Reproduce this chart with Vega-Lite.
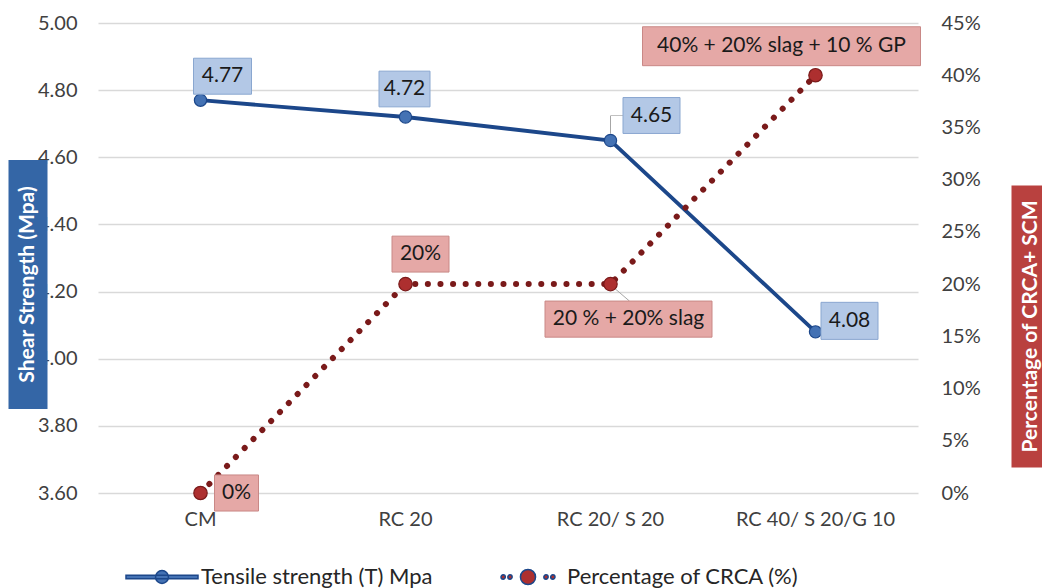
{
  "$schema": "https://vega.github.io/schema/vega-lite/v6.json",
  "width": 820,
  "height": 470,
  "autosize": {"type": "none"},
  "padding": {"left": 98, "top": 23, "right": 124, "bottom": 95},
  "background": "white",
  "config": {
    "view": {"stroke": null},
    "font": "Lato",
    "axis": {"labelFont": "Lato", "titleFont": "Lato"},
    "legend": {"labelFont": "Lato"}
  },
  "data": {
    "values": [
      {"mix": "CM", "series": "Tensile strength (T) Mpa", "value": 4.77, "label": "4.77"},
      {"mix": "RC 20", "series": "Tensile strength (T) Mpa", "value": 4.72, "label": "4.72"},
      {"mix": "RC 20/ S 20", "series": "Tensile strength (T) Mpa", "value": 4.65, "label": "4.65"},
      {"mix": "RC 40/ S 20/G 10", "series": "Tensile strength (T) Mpa", "value": 4.08, "label": "4.08"},
      {"mix": "CM", "series": "Percentage of CRCA  (%)", "value": 0, "label": "0%"},
      {"mix": "RC 20", "series": "Percentage of CRCA  (%)", "value": 0.2, "label": "20%"},
      {"mix": "RC 20/ S 20", "series": "Percentage of CRCA  (%)", "value": 0.2, "label": "20 % + 20% slag"},
      {"mix": "RC 40/ S 20/G 10", "series": "Percentage of CRCA  (%)", "value": 0.4, "label": "40% + 20% slag + 10 % GP"}
    ]
  },
  "encoding": {
    "x": {
      "field": "mix",
      "type": "nominal",
      "sort": ["CM", "RC 20", "RC 20/ S 20", "RC 40/ S 20/G 10"],
      "scale": {"paddingInner": 0, "paddingOuter": 0},
      "axis": {
        "title": null,
        "labelAngle": 0,
        "labelFontSize": 20,
        "labelColor": "#404040",
        "labelPadding": 16,
        "ticks": false,
        "domain": false,
        "grid": false
      }
    }
  },
  "layer": [
    {
      "transform": [{"filter": "datum.series === 'Tensile strength (T) Mpa'"}],
      "layer": [
        {
          "mark": {"type": "line", "stroke": "#1c478a", "strokeWidth": 3.8},
          "encoding": {
            "y": {
              "field": "value",
              "type": "quantitative",
              "scale": {"domain": [3.6, 5.0], "nice": false, "zero": false},
              "axis": {
                "orient": "left",
                "title": null,
                "values": [3.6, 3.8, 4.0, 4.2, 4.4, 4.6, 4.8, 5.0],
                "format": ".2f",
                "labelFontSize": 20,
                "labelColor": "#404040",
                "labelPadding": 21,
                "ticks": false,
                "domain": false,
                "grid": true,
                "gridColor": "#d9d9d9",
                "gridWidth": 1.5
              }
            }
          }
        },
        {
          "transform": [{"filter": "datum.label === '4.65'"}],
          "layer": [
            {
              "mark": {"type": "rule", "stroke": "#a6a6a6", "strokeWidth": 1, "yOffset": -7, "y2Offset": -25},
              "encoding": {"y2": {"field": "value"}}
            },
            {
              "mark": {"type": "tick", "orient": "horizontal", "size": 13, "thickness": 1, "color": "#a6a6a6", "xOffset": 7, "yOffset": -25}
            }
          ],
          "encoding": {"y": {"field": "value", "type": "quantitative", "axis": null}}
        },
        {
          "mark": {"type": "point", "filled": true, "size": 150, "opacity": 1, "stroke": "#1c478a", "strokeWidth": 1.2},
          "encoding": {
            "y": {"field": "value", "type": "quantitative", "axis": null},
            "color": {
              "field": "series",
              "type": "nominal",
              "scale": {
                "domain": ["Tensile strength (T) Mpa", "Percentage of CRCA  (%)"],
                "range": ["#4472b4", "#ad2f2f"]
              },
              "legend": {
                "title": null,
                "orient": "none",
                "direction": "horizontal",
                "legendX": 27,
                "legendY": 517,
                "symbolSize": 5184,
                "labelFontSize": 22,
                "labelColor": "#262626",
                "labelOffset": 2,
                "labelLimit": 400,
                "columnPadding": 58,
                "encode": {
                  "symbols": {
                    "stroke": {
                      "condition": {"test": "datum.value === 'Tensile strength (T) Mpa'", "value": "#1c478a"},
                      "value": "#7a1a1a"
                    },
                    "strokeWidth": {"value": 1}
                  }
                }
              }
            }
          }
        },
        {
          "transform": [{"filter": "false"}],
          "mark": {"type": "point", "filled": true},
          "encoding": {
            "y": {"field": "value", "type": "quantitative", "axis": null},
            "color": {"field": "series", "type": "nominal"},
            "shape": {
              "field": "series",
              "type": "nominal",
              "scale": {
                "domain": ["Tensile strength (T) Mpa", "Percentage of CRCA  (%)"],
                "range": [
                  "M-1,-0.05H1V0.05H-1Z M0.18,0A0.18,0.18,0,1,1,-0.18,0A0.18,0.18,0,1,1,0.18,0Z",
                  "M-0.63,0A0.06,0.06,0,1,1,-0.75,0A0.06,0.06,0,1,1,-0.63,0Z M-0.44,0A0.06,0.06,0,1,1,-0.56,0A0.06,0.06,0,1,1,-0.44,0Z M0.21,0A0.21,0.21,0,1,1,-0.21,0A0.21,0.21,0,1,1,0.21,0Z M0.56,0A0.06,0.06,0,1,1,0.44,0A0.06,0.06,0,1,1,0.56,0Z M0.75,0A0.06,0.06,0,1,1,0.63,0A0.06,0.06,0,1,1,0.75,0Z"
                ]
              }
            }
          }
        },
        {
          "transform": [{"filter": "datum.label === '4.77'"}],
          "encoding": {
            "y": {
              "field": "value",
              "type": "quantitative",
              "axis": {
                "orient": "left",
                "offset": 51,
                "values": [4.2226],
                "labels": false,
                "ticks": true,
                "tickSize": 39,
                "tickWidth": 249,
                "tickCap": "butt",
                "tickColor": "#3466a6",
                "domain": false,
                "grid": false,
                "title": "Shear Strength (Mpa)",
                "titleColor": "white",
                "titleFontWeight": "bold",
                "titleFontSize": 21,
                "titleAngle": -90,
                "titleAlign": "center",
                "titleBaseline": "middle",
                "titleX": -20,
                "titleY": 261
              }
            }
          },
          "layer": [
            {"mark": {"type": "point", "shape": "M-1,-0.62H1V0.62H-1Z", "size": 3364, "filled": true, "fill": "#b3c8e6", "stroke": "#8aa7d0", "strokeWidth": 1, "opacity": 1, "xOffset": 22, "yOffset": -24}},
            {"mark": {"type": "text", "fontSize": 21, "color": "#1a1a1a", "xOffset": 22, "yOffset": -24}, "encoding": {"text": {"field": "label"}}}
          ]
        },
        {
          "transform": [{"filter": "datum.label === '4.72'"}],
          "encoding": {"y": {"field": "value", "type": "quantitative", "axis": null}},
          "layer": [
            {"mark": {"type": "point", "shape": "M-1,-0.7H1V0.7H-1Z", "size": 2601, "filled": true, "fill": "#b3c8e6", "stroke": "#8aa7d0", "strokeWidth": 1, "opacity": 1, "xOffset": -1, "yOffset": -28}},
            {"mark": {"type": "text", "fontSize": 21, "color": "#1a1a1a", "xOffset": -1, "yOffset": -28}, "encoding": {"text": {"field": "label"}}}
          ]
        },
        {
          "transform": [{"filter": "datum.label === '4.65'"}],
          "encoding": {"y": {"field": "value", "type": "quantitative", "axis": null}},
          "layer": [
            {"mark": {"type": "point", "shape": "M-1,-0.63H1V0.63H-1Z", "size": 3249, "filled": true, "fill": "#b3c8e6", "stroke": "#8aa7d0", "strokeWidth": 1, "opacity": 1, "xOffset": 41, "yOffset": -25}},
            {"mark": {"type": "text", "fontSize": 21, "color": "#1a1a1a", "xOffset": 41, "yOffset": -25}, "encoding": {"text": {"field": "label"}}}
          ]
        },
        {
          "transform": [{"filter": "datum.label === '4.08'"}],
          "encoding": {"y": {"field": "value", "type": "quantitative", "axis": null}},
          "layer": [
            {"mark": {"type": "point", "shape": "M-1,-0.65H1V0.65H-1Z", "size": 3249, "filled": true, "fill": "#b3c8e6", "stroke": "#8aa7d0", "strokeWidth": 1, "opacity": 1, "xOffset": 34, "yOffset": -11}},
            {"mark": {"type": "text", "fontSize": 21, "color": "#1a1a1a", "xOffset": 34, "yOffset": -11}, "encoding": {"text": {"field": "label"}}}
          ]
        }
      ],
      "resolve": {"axis": {"y": "independent"}}
    },
    {
      "transform": [{"filter": "datum.series === 'Percentage of CRCA  (%)'"}],
      "layer": [
        {
          "mark": {"type": "line", "stroke": "#7a1a1a", "strokeWidth": 6, "strokeDash": [0.1, 12.5], "strokeCap": "round"},
          "encoding": {
            "y": {
              "field": "value",
              "type": "quantitative",
              "scale": {"domain": [0, 0.45], "nice": false, "zero": true},
              "axis": {
                "orient": "right",
                "title": null,
                "values": [0, 0.05, 0.1, 0.15, 0.2, 0.25, 0.3, 0.35, 0.4, 0.45],
                "format": ".0%",
                "labelFontSize": 20,
                "labelColor": "#404040",
                "labelPadding": 23,
                "ticks": false,
                "domain": false,
                "grid": false
              }
            }
          }
        },
        {
          "transform": [{"filter": "datum.label === '20 % + 20% slag'"}],
          "mark": {"type": "rule", "stroke": "#a6a6a6", "strokeWidth": 1, "xOffset": 5, "x2Offset": 19, "yOffset": 5, "y2Offset": 17},
          "encoding": {
            "x2": {"field": "mix"},
            "y": {"field": "value", "type": "quantitative", "axis": null},
            "y2": {"field": "value"}
          }
        },
        {
          "mark": {"type": "point", "filled": true, "size": 180, "opacity": 1, "stroke": "#7a1a1a", "strokeWidth": 1.2},
          "encoding": {
            "y": {"field": "value", "type": "quantitative", "axis": null},
            "color": {"field": "series", "type": "nominal"}
          }
        },
        {
          "transform": [{"filter": "datum.label === '0%'"}],
          "encoding": {
            "y": {
              "field": "value",
              "type": "quantitative",
              "axis": {
                "orient": "right",
                "offset": 93,
                "values": [0.16],
                "labels": false,
                "ticks": true,
                "tickSize": 40,
                "tickWidth": 282,
                "tickCap": "butt",
                "tickColor": "#b9413f",
                "domain": false,
                "grid": false,
                "title": "Percentage of CRCA+ SCM",
                "titleColor": "white",
                "titleFontWeight": "bold",
                "titleFontSize": 21,
                "titleAngle": -90,
                "titleAlign": "center",
                "titleBaseline": "middle",
                "titleX": 19,
                "titleY": 303
              }
            }
          },
          "layer": [
            {"mark": {"type": "point", "shape": "M-1,-0.82H1V0.82H-1Z", "size": 1936, "filled": true, "fill": "#e5a8a6", "stroke": "#c98886", "strokeWidth": 1, "opacity": 1, "xOffset": 36, "yOffset": 0}},
            {"mark": {"type": "text", "fontSize": 21, "color": "#1a1a1a", "xOffset": 36, "yOffset": 0}, "encoding": {"text": {"field": "label"}}}
          ]
        },
        {
          "transform": [{"filter": "datum.label === '20%'"}],
          "encoding": {"y": {"field": "value", "type": "quantitative", "axis": null}},
          "layer": [
            {"mark": {"type": "point", "shape": "M-1,-0.63H1V0.63H-1Z", "size": 3249, "filled": true, "fill": "#e5a8a6", "stroke": "#c98886", "strokeWidth": 1, "opacity": 1, "xOffset": 15, "yOffset": -30}},
            {"mark": {"type": "text", "fontSize": 21, "color": "#1a1a1a", "xOffset": 15, "yOffset": -30}, "encoding": {"text": {"field": "label"}}}
          ]
        },
        {
          "transform": [{"filter": "datum.label === '20 % + 20% slag'"}],
          "encoding": {"y": {"field": "value", "type": "quantitative", "axis": null}},
          "layer": [
            {"mark": {"type": "point", "shape": "M-1,-0.216H1V0.216H-1Z", "size": 27889, "filled": true, "fill": "#e5a8a6", "stroke": "#c98886", "strokeWidth": 1, "opacity": 1, "xOffset": 18, "yOffset": 35}},
            {"mark": {"type": "text", "fontSize": 21, "color": "#1a1a1a", "xOffset": 18, "yOffset": 35}, "encoding": {"text": {"field": "label"}}}
          ]
        },
        {
          "transform": [{"filter": "datum.label === '40% + 20% slag + 10 % GP'"}],
          "encoding": {"y": {"field": "value", "type": "quantitative", "axis": null}},
          "layer": [
            {"mark": {"type": "point", "shape": "M-1,-0.14H1V0.14H-1Z", "size": 77284, "filled": true, "fill": "#e5a8a6", "stroke": "#c98886", "strokeWidth": 1, "opacity": 1, "xOffset": -34, "yOffset": -29}},
            {"mark": {"type": "text", "fontSize": 21, "color": "#1a1a1a", "xOffset": -34, "yOffset": -29}, "encoding": {"text": {"field": "label"}}}
          ]
        }
      ],
      "resolve": {"axis": {"y": "independent"}}
    }
  ],
  "resolve": {"scale": {"y": "independent"}}
}
